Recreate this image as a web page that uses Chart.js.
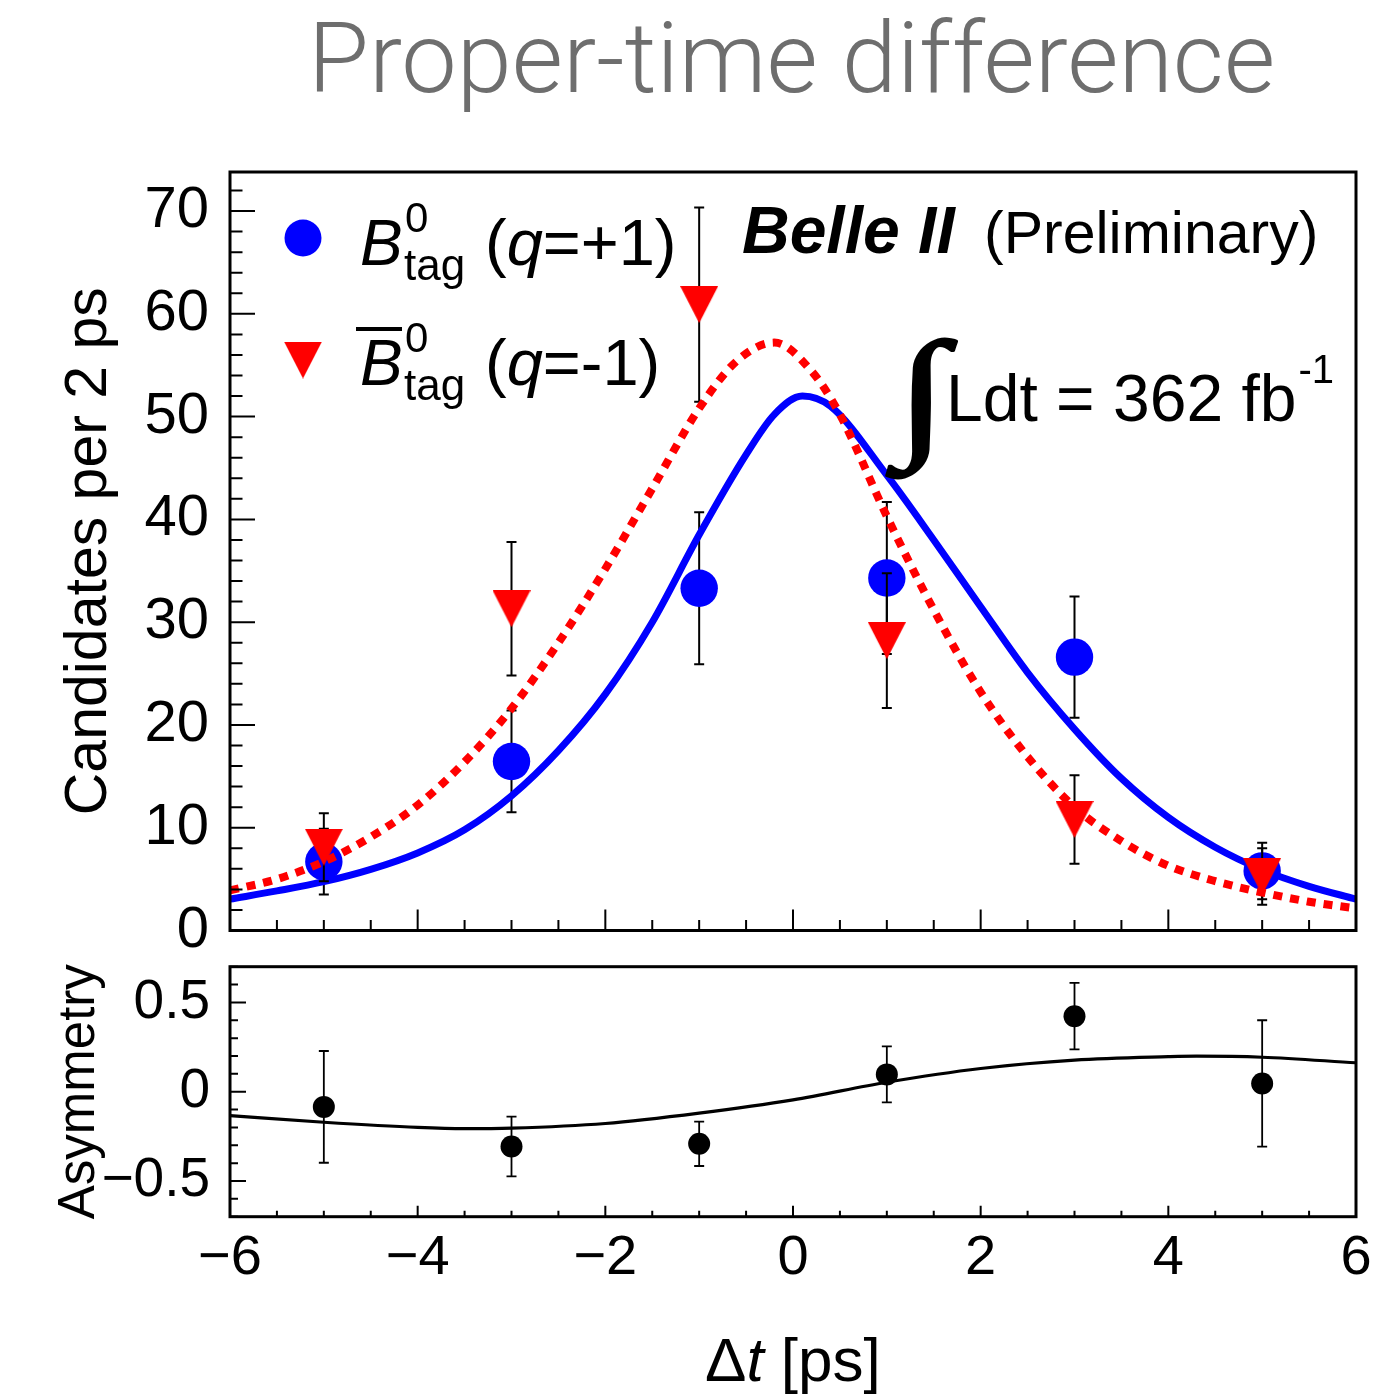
<!DOCTYPE html>
<html>
<head>
<meta charset="utf-8">
<script src="https://cdn.jsdelivr.net/npm/chart.js@4.4.1/dist/chart.umd.min.js"></script>
<style>
  html, body { margin: 0; padding: 0; background: #ffffff; }
  #wrap { position: relative; width: 1398px; height: 1395px; overflow: hidden; background: #ffffff; }
  #wrap canvas { position: absolute; left: 0; }
</style>
</head>
<body>
<div id="wrap">
  <canvas id="mainCanvas" width="1398" height="1010" style="top:0px;width:1398px;height:1010px"></canvas>
  <canvas id="asymCanvas" width="1398" height="495" style="top:900px;width:1398px;height:495px"></canvas>
</div>
<script>
// ---- Measured yields per 2 ps bin of Δt ----
const dtBins = [-5, -3, -1, 1, 3, 5];
const bTagCounts = [6.7, 16.45, 33.3, 34.3, 26.6, 5.8];
const bTagErrors = [3.2, 4.95, 7.4, 7.4, 5.9, 2.75];
const bbarTagCounts = [8.1, 31.3, 60.9, 28.2, 10.8, 5.25];
const bbarTagErrors = [3.3, 6.5, 9.45, 6.55, 4.3, 2.75];

// ---- Fit projections ----
const bTagFitDt = [-6, -5.5, -5, -4.5, -4, -3.5, -3, -2.5, -2, -1.5, -1, -0.5, -0.2, 0.1, 0.4, 1, 1.5, 2, 2.5, 3, 3.5, 4, 4.5, 5, 5.5, 6];
const bTagFit   = [3.05, 3.85, 4.75, 5.95, 7.55, 9.8, 13.1, 17.5, 23.0, 30.0, 38.5, 46.3, 50.2, 52.0, 51.0, 44.3, 38.0, 31.5, 25.1, 19.6, 14.8, 11.0, 8.1, 5.9, 4.3, 3.05];
const bbarTagFitDt = [-6, -5.5, -5, -4.5, -4, -3.5, -3, -2.5, -2, -1.5, -1, -0.6, -0.2, 0.2, 0.5, 1, 1.5, 2, 2.5, 3, 3.5, 4, 4.5, 5, 5.5, 6];
const bbarTagFit   = [3.9, 5.0, 6.7, 9.1, 12.2, 16.4, 21.6, 28.0, 35.2, 43.0, 50.8, 55.4, 57.2, 54.4, 50.2, 40.3, 31.2, 23.2, 16.9, 12.0, 8.7, 6.3, 4.8, 3.7, 2.8, 2.15];

// ---- Flavour asymmetry ----
const asymmetry = [-0.085, -0.307, -0.292, 0.097, 0.423, 0.046];
const asymmetryErrors = [0.313, 0.167, 0.124, 0.157, 0.186, 0.354];
const asymFitDt = [-6, -5, -4, -3.5, -3, -2, -1, 0, 1, 2, 3, 4, 4.3, 5, 6];
const asymFit   = [-0.134, -0.171, -0.2, -0.207, -0.204, -0.178, -0.12, -0.046, 0.053, 0.13, 0.177, 0.196, 0.199, 0.193, 0.162];

// ---- Axis tick labels ----
const dtTicks = [-6, -4, -2, 0, 2, 4, 6];
const countTicks = [0, 10, 20, 30, 40, 50, 60, 70];
const asymTicks = [-0.5, 0, 0.5];

const SANS = '"Liberation Sans", Arial, Helvetica, sans-serif';
Chart.defaults.font.family = SANS;
Chart.defaults.color = '#000000';

const MAIN_TOP = 0;     // page offset of the upper canvas
const ASYM_TOP = 900;   // page offset of the lower canvas

function fmtNum(v) {
  const r = Math.round(v * 10) / 10;
  if (Math.abs(r) < 1e-9) return '0';
  return r < 0 ? '\u2212' + String(Math.abs(r)) : String(r);
}
function pts(xs, ys) { return xs.map((x, i) => ({ x: x, y: ys[i] })); }

// Down-pointing triangle marker, centred on its bounding box
const triMarker = document.createElement('canvas');
triMarker.width = 38; triMarker.height = 37;
(function () {
  const c = triMarker.getContext('2d');
  c.fillStyle = '#ff0000';
  c.beginPath(); c.moveTo(0, 0); c.lineTo(38, 0); c.lineTo(19, 37); c.closePath(); c.fill();
})();

// Vertical error bars drawn just before their own dataset
const errorBarPlugin = {
  id: 'errorBars',
  beforeDatasetDraw(chart, args) {
    const ds = chart.data.datasets[args.index];
    if (!ds.errors) return;
    const xs = chart.scales.x, ys = chart.scales.y, ctx = chart.ctx;
    const cap = ds.errorCap;
    ctx.save();
    ctx.strokeStyle = '#000000';
    ctx.lineWidth = ds.errorLineWidth;
    ctx.beginPath();
    ds.data.forEach((p, i) => {
      const e = ds.errors[i];
      const px = xs.getPixelForValue(p.x);
      const y1 = ys.getPixelForValue(p.y + e);
      const y2 = ys.getPixelForValue(p.y - e);
      ctx.moveTo(px, y1); ctx.lineTo(px, y2);
      ctx.moveTo(px - cap, y1); ctx.lineTo(px + cap, y1);
      ctx.moveTo(px - cap, y2); ctx.lineTo(px + cap, y2);
    });
    ctx.stroke();
    ctx.restore();
  }
};

// Frame with inward ticks on the left and bottom axes
const framePlugin = {
  id: 'frame',
  afterDraw(chart, args, o) {
    const ctx = chart.ctx, a = chart.chartArea;
    const xs = chart.scales.x, ys = chart.scales.y;
    const isMult = (v, m) => Math.abs(v / m - Math.round(v / m)) < 1e-6;
    ctx.save();
    ctx.strokeStyle = '#000000';
    ctx.lineWidth = o.tickWidth;
    ctx.beginPath();
    for (let k = Math.ceil(ys.min / o.yStep - 1e-6); k * o.yStep <= ys.max + 1e-6; k++) {
      const v = k * o.yStep, y = ys.getPixelForValue(v);
      const len = isMult(v, o.yMajor) ? o.yMajorLen : o.yMinorLen;
      ctx.moveTo(a.left, y); ctx.lineTo(a.left + len, y);
    }
    for (let k = Math.ceil(xs.min / o.xStep - 1e-6); k * o.xStep <= xs.max + 1e-6; k++) {
      const v = k * o.xStep, x = xs.getPixelForValue(v);
      const len = isMult(v, o.xMajor) ? o.xMajorLen : o.xMinorLen;
      ctx.moveTo(x, a.bottom); ctx.lineTo(x, a.bottom - len);
    }
    ctx.stroke();
    ctx.lineWidth = o.frameWidth;
    ctx.strokeRect(a.left, a.top, a.right - a.left, a.bottom - a.top);
    ctx.restore();
  }
};

function fitGlyph(ctx, ch, font, x0, y0, x1, y1, extra) {
  ctx.save();
  ctx.font = font;
  ctx.textAlign = 'left';
  ctx.textBaseline = 'alphabetic';
  const m = ctx.measureText(ch);
  const gw = m.actualBoundingBoxLeft + m.actualBoundingBoxRight;
  const gh = m.actualBoundingBoxAscent + m.actualBoundingBoxDescent;
  const sx = (x1 - x0) / gw, sy = (y1 - y0) / gh;
  ctx.translate(x0, y0);
  ctx.scale(sx, sy);
  ctx.fillText(ch, m.actualBoundingBoxLeft, m.actualBoundingBoxAscent);
  if (extra) {
    ctx.lineWidth = extra / ((sx + sy) / 2);
    ctx.lineJoin = 'round';
    ctx.strokeStyle = ctx.fillStyle;
    ctx.strokeText(ch, m.actualBoundingBoxLeft, m.actualBoundingBoxAscent);
  }
  ctx.restore();
}

// Page title, legend and labels of the upper panel
const mainTextPlugin = {
  id: 'mainText',
  afterDraw(chart) {
    const ctx = chart.ctx;
    ctx.save();
    ctx.translate(0, -MAIN_TOP);
    ctx.textAlign = 'left';
    ctx.textBaseline = 'alphabetic';

    // title, light grey
    const title = 'Proper-time difference';
    ctx.fillStyle = '#6e6e6e';
    ctx.font = '300 100px Roboto, ' + SANS;
    const tw = ctx.measureText(title).width;
    const ts = 100 * 967 / tw;
    ctx.font = '300 ' + ts.toFixed(1) + 'px Roboto, ' + SANS;
    ctx.fillText(title, 308, 92);

    // legend markers
    ctx.fillStyle = '#0000ff';
    ctx.beginPath(); ctx.arc(303, 238, 18.5, 0, Math.PI * 2); ctx.fill();
    ctx.drawImage(triMarker, 303 - 19, 360 - 18.5);

    ctx.fillStyle = '#000000';
    const legendEntry = (base, tail, bar) => {
      ctx.font = 'italic 64px ' + SANS;
      ctx.fillText('B', 360, base);
      ctx.font = '42px ' + SANS;
      ctx.fillText('0', 405, base - 33);
      ctx.font = '44px ' + SANS;
      ctx.fillText('tag', 404, base + 15);
      let x = 485;
      ctx.font = '65px ' + SANS;
      ctx.fillText('(', x, base); x += ctx.measureText('(').width;
      ctx.font = 'italic 65px ' + SANS;
      ctx.fillText('q', x, base); x += ctx.measureText('q').width;
      ctx.font = '65px ' + SANS;
      ctx.fillText(tail, x, base);
      if (bar) {
        ctx.save();
        ctx.strokeStyle = '#000000'; ctx.lineWidth = 4;
        ctx.beginPath(); ctx.moveTo(356, base - 56); ctx.lineTo(402, base - 56); ctx.stroke();
        ctx.restore();
      }
    };
    legendEntry(265, '=+1)', false);
    legendEntry(385, '=-1)', true);

    // experiment label
    ctx.font = 'italic bold 66px ' + SANS;
    ctx.fillText('Belle II', 742, 253);
    ctx.font = '59px ' + SANS;
    ctx.fillText('(Preliminary)', 984, 253);

    // integrated luminosity
    fitGlyph(ctx, '\u222B', '200px "Liberation Serif", "DejaVu Serif", serif', 886, 338, 956, 478, 3);
    ctx.font = '66px ' + SANS;
    const lum = 'Ldt = 362 fb';
    ctx.fillText(lum, 946, 421);
    const lx = 946 + ctx.measureText(lum).width;
    ctx.font = '40px ' + SANS;
    ctx.fillText('-1', lx + 2, 383);
    ctx.restore();
  }
};

// x-axis title of the lower panel
const asymTextPlugin = {
  id: 'asymText',
  afterDraw(chart) {
    const ctx = chart.ctx;
    ctx.save();
    ctx.translate(0, -ASYM_TOP);
    ctx.fillStyle = '#000000';
    ctx.textAlign = 'left';
    ctx.textBaseline = 'alphabetic';
    let x = 705; const base = 1381;
    ctx.font = '62px ' + SANS;
    ctx.fillText('\u0394', x, base); x += ctx.measureText('\u0394').width;
    ctx.font = 'italic 62px ' + SANS;
    ctx.fillText('t', x, base); x += ctx.measureText('t').width;
    ctx.font = '62px ' + SANS;
    ctx.fillText(' [ps]', x, base);
    ctx.restore();
  }
};

const commonOpts = {
  responsive: false,
  animation: false,
  devicePixelRatio: 1,
  events: []
};

new Chart(document.getElementById('mainCanvas'), {
  data: {
    datasets: [
      {
        type: 'scatter', label: 'B0 tag (q=+1)',
        data: pts(dtBins, bTagCounts), errors: bTagErrors, errorLineWidth: 2, errorCap: 5,
        pointRadius: 18.7, pointHoverRadius: 18.7, pointBackgroundColor: '#0000ff',
        pointBorderColor: '#0000ff', pointBorderWidth: 0, order: 6
      },
      {
        type: 'line', label: 'B0 tag fit',
        data: pts(bTagFitDt, bTagFit), borderColor: '#0000ff', borderWidth: 7,
        pointRadius: 0, cubicInterpolationMode: 'monotone', fill: false, order: 5
      },
      {
        type: 'scatter', label: 'anti-B0 tag (q=-1)',
        data: pts(dtBins, bbarTagCounts), errors: bbarTagErrors, errorLineWidth: 2, errorCap: 5,
        pointStyle: triMarker, pointRadius: 18.5, pointHoverRadius: 18.5, order: 4
      },
      {
        type: 'line', label: 'anti-B0 tag fit',
        data: pts(bbarTagFitDt, bbarTagFit), borderColor: '#ff0000', borderWidth: 8,
        borderDash: [9, 8], borderCapStyle: 'butt',
        pointRadius: 0, cubicInterpolationMode: 'monotone', fill: false, order: 3
      }
    ]
  },
  options: Object.assign({}, commonOpts, {
    layout: { padding: { top: 172, left: 0, right: 42, bottom: 79.5 } },
    scales: {
      x: { type: 'linear', min: -6, max: 6, display: false },
      y: {
        type: 'linear', min: 0, max: 73.8,
        afterFit: s => { s.width = 230; },
        afterBuildTicks: s => { s.ticks = countTicks.map(v => ({ value: v })); },
        grid: { display: false, drawTicks: false },
        border: { display: false },
        ticks: { padding: 21, color: '#000000', font: { size: 58 }, callback: v => fmtNum(v) },
        title: { display: true, text: 'Candidates per 2 ps', color: '#000000', font: { size: 59 }, padding: { top: 54, bottom: 0 } }
      }
    },
    plugins: {
      legend: { display: false }, tooltip: { enabled: false }, title: { display: false },
      frame: { tickWidth: 2, frameWidth: 3, yStep: 2, yMajor: 10, yMajorLen: 25, yMinorLen: 12.5,
               xStep: 0.5, xMajor: 2, xMajorLen: 21, xMinorLen: 10.5 }
    }
  }),
  plugins: [errorBarPlugin, framePlugin, mainTextPlugin]
});

new Chart(document.getElementById('asymCanvas'), {
  data: {
    datasets: [
      {
        type: 'scatter', label: 'Asymmetry',
        data: pts(dtBins, asymmetry), errors: asymmetryErrors, errorLineWidth: 1.8, errorCap: 5,
        pointRadius: 11, pointHoverRadius: 11, pointBackgroundColor: '#000000',
        pointBorderColor: '#000000', pointBorderWidth: 0, order: 2
      },
      {
        type: 'line', label: 'Asymmetry fit',
        data: pts(asymFitDt, asymFit), borderColor: '#000000', borderWidth: 3.2,
        pointRadius: 0, cubicInterpolationMode: 'monotone', fill: false, order: 1
      }
    ]
  },
  options: Object.assign({}, commonOpts, {
    layout: { padding: { top: 66.7, left: 0, right: 42, bottom: 78.3 } },
    scales: {
      x: {
        type: 'linear', min: -6, max: 6,
        afterFit: s => { s.height = 100; },
        afterBuildTicks: s => { s.ticks = dtTicks.map(v => ({ value: v })); },
        grid: { display: false, drawTicks: false },
        border: { display: false },
        ticks: { padding: 8, autoSkip: false, maxRotation: 0, color: '#000000', font: { size: 56 }, callback: v => fmtNum(v) }
      },
      y: {
        type: 'linear', min: -0.7, max: 0.7,
        afterFit: s => { s.width = 230; },
        afterBuildTicks: s => { s.ticks = asymTicks.map(v => ({ value: v })); },
        grid: { display: false, drawTicks: false },
        border: { display: false },
        ticks: { padding: 20, color: '#000000', font: { size: 55 }, callback: v => fmtNum(v) },
        title: { display: true, text: 'Asymmetry', color: '#000000', font: { size: 51 }, padding: { top: 49, bottom: 0 } }
      }
    },
    plugins: {
      legend: { display: false }, tooltip: { enabled: false }, title: { display: false },
      frame: { tickWidth: 2, frameWidth: 3, yStep: 0.1, yMajor: 0.5, yMajorLen: 16, yMinorLen: 8,
               xStep: 0.5, xMajor: 2, xMajorLen: 11, xMinorLen: 6 }
    }
  }),
  plugins: [errorBarPlugin, framePlugin, asymTextPlugin]
});
</script>
</body>
</html>
